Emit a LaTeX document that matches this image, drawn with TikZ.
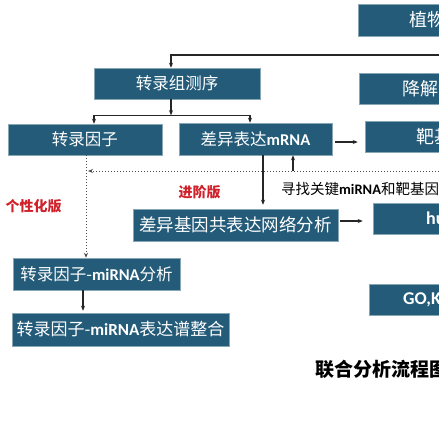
\documentclass[tikz,border=0pt]{standalone}
\usepackage{fontspec}
\setmainfont{Noto Sans CJK SC}
\newfontfamily\lat{Carlito}
\usetikzlibrary{arrows.meta}
\definecolor{boxblue}{HTML}{235B79}
\definecolor{labred}{HTML}{D0202A}
\newcommand{\fs}[1]{\fontsize{#1}{#1}\selectfont}
\begin{document}
\begin{tikzpicture}[x=1pt,y=-1pt,
  box/.style={fill=boxblue, draw=boxblue!55!white, line width=0.5pt, inner sep=0pt, text=white},
  arr/.style={-{Stealth[length=5pt,width=4pt]}, line width=1.1pt, black!85},
  dots/.style={dotted, line width=1pt, black!70},
  boxtext/.style={text=white, inner sep=0pt, anchor=west}]
\useasboundingbox (0,0) rectangle (439,440);
\clip (0,0) rectangle (439,440);
\fill[white] (0,0) rectangle (439,440);

% left/middle boxes
\node[box, minimum width=166pt, minimum height=31pt] (seq) at (177,83.5) {\fs{16.5}转录组测序};
\node[box, minimum width=154pt, minimum height=31pt] (tf) at (85,139.5) {\fs{16.5}转录因子};
\node[box, minimum width=153pt, minimum height=32pt] (deg) at (255.5,139) {\fs{16.5}差异表达{\lat\bfseries mRNA}};
\node[box, minimum width=205pt, minimum height=32pt] (net) at (235.5,225) {\fs{17.5}差异基因共表达网络分析};
\node[box, minimum width=167pt, minimum height=32pt] (tfmi) at (96.5,274) {\fs{16.5}转录因子-{\lat\bfseries miRNA}分析};
\node[box, minimum width=217pt, minimum height=33pt] (tfint) at (120.5,329.5) {\fs{17}转录因子-{\lat\bfseries miRNA}表达谱整合};

% right boxes (cut by the picture edge)
\node[box, minimum width=162pt, minimum height=32pt] (plant) at (439,20) {};
\node[boxtext] (plantt) at (409,20) {\fs{18}植物};
\node[box, minimum width=160pt, minimum height=31pt] (dgr) at (439,88.5) {};
\node[boxtext] (dgrt) at (402,88.5) {\fs{18}降解组};
\node[box, minimum width=148pt, minimum height=31pt] (tgt) at (439,136.5) {};
\node[boxtext] (tgtt) at (416,136.5) {\fs{18}靶基};
\node[box, minimum width=132pt, minimum height=31pt] (hub) at (439,218.5) {};
\node[boxtext] (hubt) at (426,218.5) {\fs{18}{\lat\bfseries hu}};
\node[box, minimum width=140pt, minimum height=31pt] (go) at (439,299.5) {};
\node[boxtext] (got) at (403,299.5) {\fs{18}{\lat\bfseries GO,K}};

% labels
\node[anchor=west, inner sep=0pt] (find) at (281,189) {\fs{14.5}寻找关键{\lat\bfseries miRNA}和靶基因};
\node[inner sep=0pt, text=labred] (adv) at (199.5,192) {\fs{14}\bfseries 进阶版};
\node[inner sep=0pt, text=labred] (pers) at (33.5,206) {\fs{14}\bfseries 个性化版};
\node[anchor=west, inner sep=0pt] (title) at (315,369) {\fs{19}\bfseries 联合分析流程图};

% connectors
\coordinate (topsrc) at (445,55);
\draw[arr, line width=1.4pt] (topsrc) -| ([xshift=-6pt]seq.north);
\draw[arr] ([xshift=-6pt]seq.south) -- ++(0,16) coordinate (sp);
\draw[arr] (sp) -| ([xshift=9pt]tf.north);
\draw[arr] (sp) -| ([xshift=-5.5pt]deg.north);
\draw[arr] ([xshift=3pt,yshift=-3pt]deg.east) -- ([xshift=-7pt,yshift=-5.5pt]tgt.west);

\coordinate (dsrc) at (445,171);
\coordinate (vj) at ([xshift=3pt]tf.south);
\draw[dots, -{Stealth[length=5pt,width=4pt]}] (dsrc) -- (dsrc -| vj);
\draw[dots, -{Stealth[length=5pt,width=4pt]}] ([xshift=1pt]tf.south) -- ([xshift=-10.5pt]tfmi.north);
\coordinate (upc) at ([xshift=37.5pt]deg.south);
\draw[arr] (upc |- dsrc) -- (upc);
\draw[arr] ([xshift=7.5pt]deg.south) -- ([xshift=27.5pt,yshift=4pt]net.north);
\draw[arr] ([xshift=2pt,yshift=4pt]net.east) -- ([xshift=-10pt,yshift=-2.5pt]hub.west);
\draw[arr] ([xshift=-13.5pt]tfmi.south) -- ([xshift=-37.5pt,yshift=2pt]tfint.north);
\end{tikzpicture}
\end{document}
